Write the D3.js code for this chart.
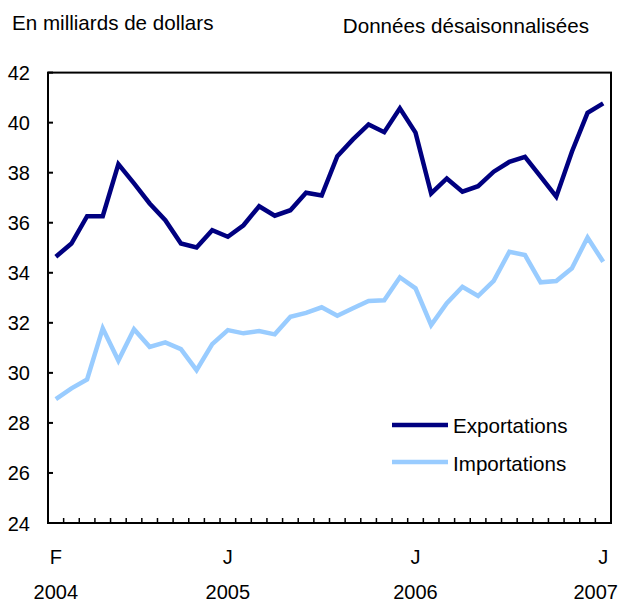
<!DOCTYPE html>
<html>
<head>
<meta charset="utf-8">
<script src="https://d3js.org/d3.v7.min.js"></script>
<style>
  body { margin: 0; background: #fff; }
  svg { display: block; font-family: "Liberation Sans", Arial, Helvetica, sans-serif; }
</style>
</head>
<body>
<svg width="620" height="604"></svg>
<script>
// months, Feb 2004 .. Jan 2007
const months = ["2004-02","2004-03","2004-04","2004-05","2004-06","2004-07","2004-08","2004-09","2004-10","2004-11","2004-12",
  "2005-01","2005-02","2005-03","2005-04","2005-05","2005-06","2005-07","2005-08","2005-09","2005-10","2005-11","2005-12",
  "2006-01","2006-02","2006-03","2006-04","2006-05","2006-06","2006-07","2006-08","2006-09","2006-10","2006-11","2006-12",
  "2007-01"];

const exportations = [34.64, 35.17, 36.26, 36.26, 38.34, 37.57, 36.77, 36.1, 35.17, 35.01, 35.7,
  35.44, 35.9, 36.66, 36.28, 36.5, 37.2, 37.09, 38.66, 39.33, 39.93, 39.62, 40.57,
  39.6, 37.17, 37.77, 37.24, 37.46, 38.04, 38.43, 38.63, 37.84, 37.04, 38.84, 40.39,
  40.77];

const importations = [28.95, 29.38, 29.74, 31.78, 30.49, 31.74, 31.04, 31.22, 30.95, 30.11, 31.15,
  31.71, 31.58, 31.67, 31.54, 32.24, 32.4, 32.62, 32.28, 32.58, 32.87, 32.9, 33.82,
  33.38, 31.91, 32.78, 33.44, 33.07, 33.68, 34.84, 34.71, 33.62, 33.67, 34.18, 35.41,
  34.44];

const yTicks = [24, 26, 28, 30, 32, 34, 36, 38, 40, 42];
const monthLabels = [["2004-02", "F"], ["2005-01", "J"], ["2006-01", "J"], ["2007-01", "J"]];
const yearLabels = [["2004-02", "2004"], ["2005-01", "2005"], ["2006-01", "2006"], ["2007-01", "2007"]];

const svg = d3.select("svg");
const plot = {left: 48, right: 611, top: 72.6, bottom: 523};

const x = d3.scaleBand().domain(months).range([plot.left, plot.right]).padding(0);
const y = d3.scaleLinear().domain([24, 42]).range([plot.bottom, plot.top]);
const cx = m => x(m) + x.bandwidth() / 2;

// titles
svg.append("text").attr("x", 12).attr("y", 30)
   .style("font-size", "20.6px").text("En milliards de dollars");
svg.append("text").attr("x", 589).attr("y", 33).attr("text-anchor", "end")
   .style("font-size", "20.6px").text("Données désaisonnalisées");

// y ticks (inside) and labels
svg.append("g").selectAll("line").data(yTicks).join("line")
   .attr("x1", plot.left).attr("x2", plot.left + 5)
   .attr("y1", d => y(d)).attr("y2", d => y(d))
   .attr("stroke", "#000").attr("stroke-width", 2);
svg.append("g").selectAll("text").data(yTicks).join("text")
   .attr("x", 30).attr("y", d => y(d) + 7.5)
   .attr("text-anchor", "end").style("font-size", "20px")
   .text(d => d);

// x ticks at month boundaries
svg.append("g").selectAll("line").data(months.slice(1)).join("line")
   .attr("x1", d => x(d)).attr("x2", d => x(d))
   .attr("y1", plot.bottom).attr("y2", plot.bottom - 5)
   .attr("stroke", "#000").attr("stroke-width", 1.5);

svg.append("g").selectAll("text").data(monthLabels).join("text")
   .attr("x", d => cx(d[0])).attr("y", 564)
   .attr("text-anchor", "middle").style("font-size", "20px")
   .text(d => d[1]);
svg.append("g").selectAll("text").data(yearLabels).join("text")
   .attr("x", (d, i) => i === yearLabels.length - 1 ? 618 : cx(d[0]))
   .attr("y", 599)
   .attr("text-anchor", (d, i) => i === yearLabels.length - 1 ? "end" : "middle")
   .style("font-size", "20px")
   .text(d => d[1]);

// frame
svg.append("rect").attr("x", plot.left).attr("y", plot.top)
   .attr("width", plot.right - plot.left).attr("height", plot.bottom - plot.top)
   .attr("fill", "none").attr("stroke", "#000").attr("stroke-width", 2);

// lines
const line = d3.line().x((d, i) => cx(months[i])).y(d => y(d));
svg.append("path").datum(importations)
   .attr("fill", "none").attr("stroke", "#99ccff").attr("stroke-width", 4.5)
   .attr("stroke-linejoin", "miter").attr("d", line);
svg.append("path").datum(exportations)
   .attr("fill", "none").attr("stroke", "#000080").attr("stroke-width", 4.5)
   .attr("stroke-linejoin", "miter").attr("d", line);

// legend
const legend = [["Exportations", "#000080", 425, 433], ["Importations", "#99ccff", 462, 471]];
const lg = svg.append("g");
legend.forEach(([label, color, ly, ty]) => {
  lg.append("line").attr("x1", 392).attr("x2", 448).attr("y1", ly).attr("y2", ly)
    .attr("stroke", color).attr("stroke-width", 4.5);
  lg.append("text").attr("x", 453).attr("y", ty).style("font-size", "20.6px").text(label);
});
</script>
</body>
</html>
